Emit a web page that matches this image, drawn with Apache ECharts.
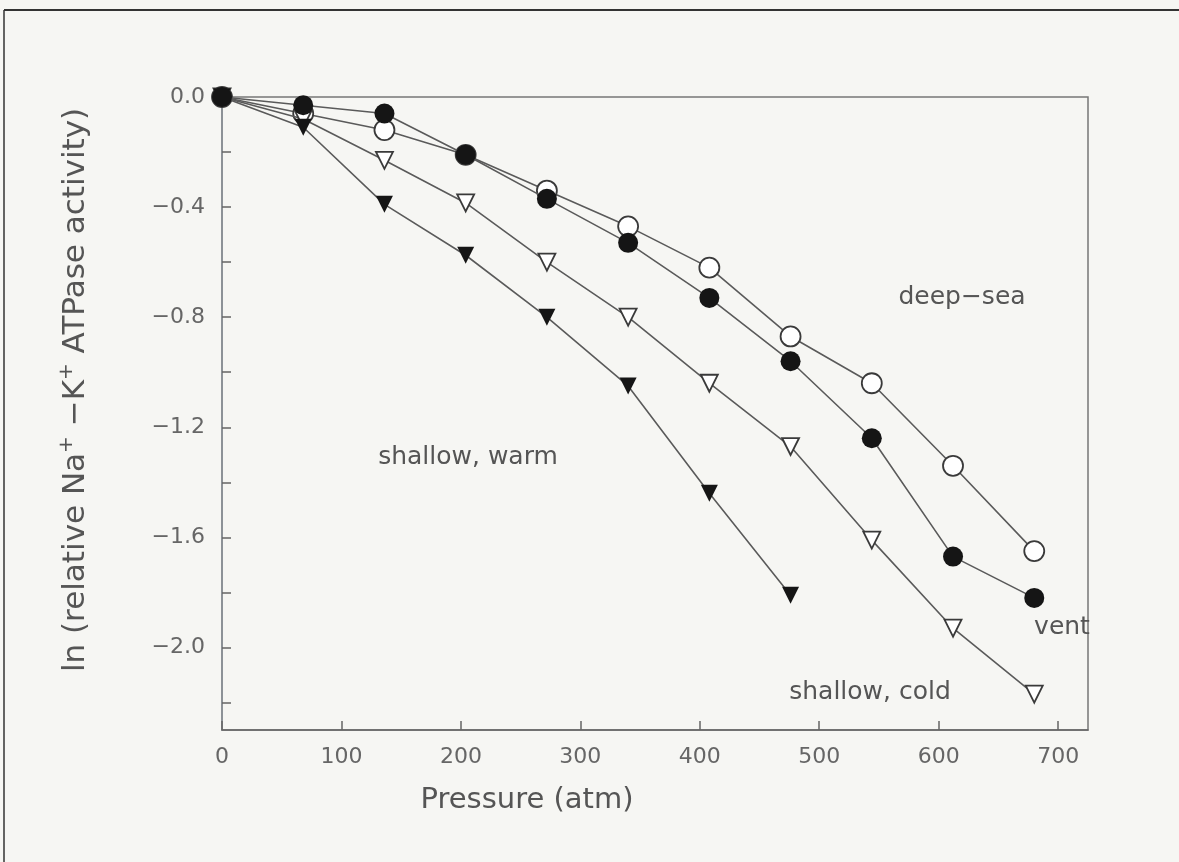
<!DOCTYPE html>
<html>
<head>
<meta charset="utf-8">
<script src="https://cdn.jsdelivr.net/npm/echarts@6/dist/echarts.min.js"></script>
<style>
  html, body { margin: 0; padding: 0; background: #f6f6f3; }
  #main { width: 1179px; height: 862px; }
</style>
</head>
<body>
<div id="main"></div>
<script>
// pressure (atm) and ln activity for each group
var pressure = [0, 68, 136, 204, 272, 340, 408, 476, 544, 612, 680]
var deepSea = [0, -0.06, -0.12, -0.21, -0.34, -0.47, -0.62, -0.87, -1.04, -1.34, -1.65]
var vent = [0, -0.03, -0.06, -0.21, -0.37, -0.53, -0.73, -0.96, -1.24, -1.67, -1.82]
var shallowCold = [0, -0.08, -0.23, -0.385, -0.60, -0.80, -1.04, -1.27, -1.61, -1.93, -2.17]
var shallowWarm = [0, -0.11, -0.39, -0.575, -0.80, -1.05, -1.44, -1.81]

var xTicks = [0, 100, 200, 300, 400, 500, 600, 700]
var yLabels = [0, -0.4, -0.8, -1.2, -1.6, -2.0]
var yTicks = [0, -0.2, -0.4, -0.6, -0.8, -1.0, -1.2, -1.4, -1.6, -1.8, -2.0, -2.2]

function pairs(ys) {
    return ys.map(function (y, i) { return [pressure[i], y] })
}

var lineCol = '#5a5a5a'
var font = 'DejaVu Sans'

function makeSeries(name, ys, symbol, filled, z) {
    return {
        name: name,
        type: 'line',
        data: pairs(ys),
        symbol: symbol,
        symbolSize: symbol === 'circle' ? 20 : 17,
        symbolRotate: symbol === 'triangle' ? 180 : 0,
        showAllSymbol: true,
        lineStyle: { color: lineCol, width: 1.6 },
        itemStyle: {
            color: filled ? '#151515' : '#ffffff',
            borderColor: '#3a3a3a',
            borderWidth: filled ? 0 : 1.8
        },
        emphasis: { disabled: true },
        z: z
    }
}

var chart = echarts.init(document.getElementById('main'))

var option = {
    backgroundColor: '#f6f6f3',
    animation: false,
    grid: {
        left: 222, top: 97, right: 91, bottom: 132,
        containLabel: false,
        outerBoundsMode: 'none',
        show: true,
        borderColor: '#777',
        borderWidth: 1.5,
        backgroundColor: 'transparent'
    },
    xAxis: {
        type: 'value',
        min: 0, max: 725,
        interval: 100,
        axisLine: { show: true, onZero: false, lineStyle: { color: '#666', width: 1.5 } },
        axisTick: { show: true, inside: true, length: 9, customValues: xTicks, lineStyle: { color: '#666', width: 1.5 } },
        axisLabel: {
            customValues: xTicks,
            color: '#666', fontFamily: font, fontSize: 22, margin: 16
        },
        splitLine: { show: false }
    },
    yAxis: {
        type: 'value',
        min: -2.3, max: 0,
        axisLine: { show: true, onZero: false, lineStyle: { color: '#8a9098', width: 1.5 } },
        axisTick: { show: true, inside: true, length: 9, customValues: yTicks, lineStyle: { color: '#666', width: 1.5 } },
        axisLabel: {
            customValues: yLabels,
            color: '#666', fontFamily: font, fontSize: 22, margin: 17,
            formatter: function (v) {
                return v === 0 ? '0.0' : '\u2212' + Math.abs(v).toFixed(1)
            }
        },
        splitLine: { show: false }
    },
    series: [
        makeSeries('deep-sea', deepSea, 'circle', false, 2),
        makeSeries('shallow, cold', shallowCold, 'triangle', false, 3),
        makeSeries('shallow, warm', shallowWarm, 'triangle', true, 4),
        makeSeries('vent', vent, 'circle', true, 5)
    ],
    graphic: [
        // page frame
        { type: 'line', shape: { x1: 4, y1: 10, x2: 1179, y2: 10 }, style: { stroke: '#333', lineWidth: 2 } },
        { type: 'line', shape: { x1: 4, y1: 10, x2: 4, y2: 862 }, style: { stroke: '#333', lineWidth: 1.5 } },
        {
            type: 'text', x: 76, y: 390, rotation: Math.PI / 2,
            style: {
                text: 'ln (relative Na{sup|+} \u2212K{sup|+} ATPase activity)',
                fill: '#555', font: '31px "DejaVu Sans"',
                align: 'center', verticalAlign: 'middle',
                rich: { sup: { fontSize: 20, fill: '#555', fontFamily: font, padding: [0, 0, 18, 0] } }
            }
        },
        {
            type: 'text', x: 527, y: 800,
            style: { text: 'Pressure (atm)', fill: '#555', font: '29px "DejaVu Sans"', align: 'center', verticalAlign: 'middle' }
        },
        {
            type: 'text', x: 962, y: 297,
            style: { text: 'deep\u2212sea', fill: '#555', font: '25px "DejaVu Sans"', align: 'center', verticalAlign: 'middle' }
        },
        {
            type: 'text', x: 1062, y: 627,
            style: { text: 'vent', fill: '#555', font: '25px "DejaVu Sans"', align: 'center', verticalAlign: 'middle' }
        },
        {
            type: 'text', x: 870, y: 692,
            style: { text: 'shallow, cold', fill: '#555', font: '25px "DejaVu Sans"', align: 'center', verticalAlign: 'middle' }
        },
        {
            type: 'text', x: 468, y: 457,
            style: { text: 'shallow, warm', fill: '#555', font: '25px "DejaVu Sans"', align: 'center', verticalAlign: 'middle' }
        }
    ]
}

chart.setOption(option)
</script>
</body>
</html>
